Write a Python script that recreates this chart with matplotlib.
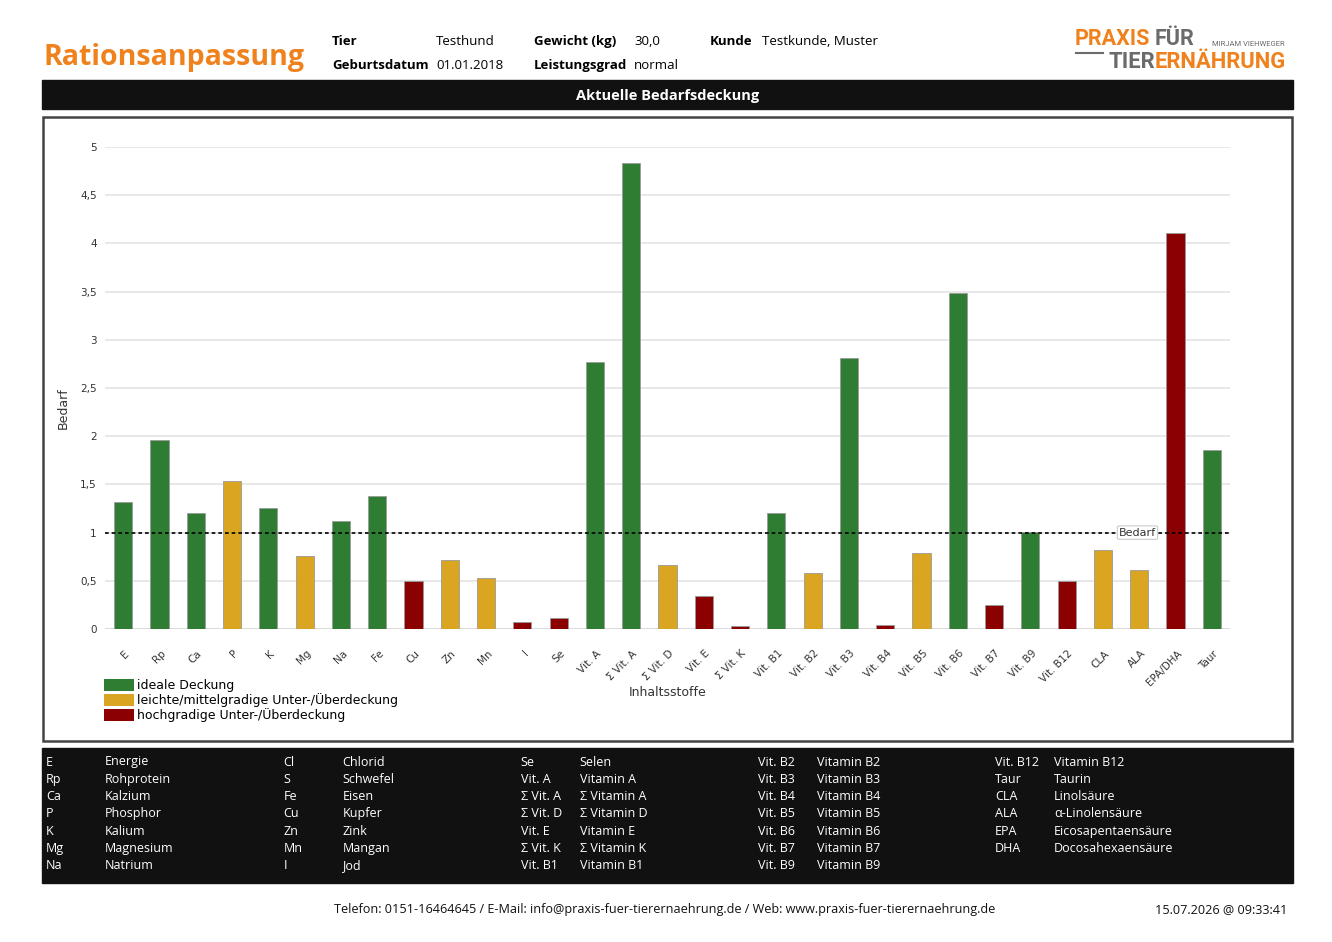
import matplotlib.pyplot as plt
import matplotlib.transforms as mtransforms
from matplotlib.patches import Rectangle, Patch
from matplotlib.lines import Line2D

# chart data
labels = ['E', 'Rp', 'Ca', 'P', 'K', 'Mg', 'Na', 'Fe', 'Cu', 'Zn', 'Mn', 'I', 'Se',
          'Vit. A', 'Σ Vit. A', 'Σ Vit. D', 'Vit. E', 'Σ Vit. K', 'Vit. B1', 'Vit. B2',
          'Vit. B3', 'Vit. B4', 'Vit. B5', 'Vit. B6', 'Vit. B7', 'Vit. B9', 'Vit. B12',
          'CLA', 'ALA', 'EPA/DHA', 'Taur']
values = [1.32, 1.96, 1.20, 1.535, 1.255, 0.757, 1.12, 1.38, 0.50, 0.716, 0.53, 0.073, 0.114,
          2.77, 4.83, 0.664, 0.342, 0.031, 1.20, 0.58, 2.81, 0.04, 0.79, 3.49, 0.25, 1.005,
          0.50, 0.82, 0.61, 4.11, 1.86]
# 0 = ideal, 1 = leicht/mittel, 2 = hochgradig
status = [0, 0, 0, 1, 0, 1, 0, 0, 2, 1, 1, 2, 2,
          0, 0, 1, 2, 2, 0, 1, 0, 2, 1, 0, 2, 0, 2,
          1, 1, 2, 0]
status_names = ['ideale Deckung', 'leichte/mittelgradige Unter-/Überdeckung',
                'hochgradige Unter-/Überdeckung']
status_colors = ['#2e7d32', '#daa520', '#8b0000']
yticks = [0, 0.5, 1, 1.5, 2, 2.5, 3, 3.5, 4, 4.5, 5]
ytick_labels = ['0', '0,5', '1', '1,5', '2', '2,5', '3', '3,5', '4', '4,5', '5']

# header info
info_left = [('Tier', 'Testhund'), ('Geburtsdatum', '01.01.2018')]
info_mid = [('Gewicht (kg)', '30,0'), ('Leistungsgrad', 'normal')]
info_right = [('Kunde', 'Testkunde, Muster')]

# abbreviation table, 5 columns
abbr_cols = [
    ['E', 'Rp', 'Ca', 'P', 'K', 'Mg', 'Na'],
    ['Cl', 'S', 'Fe', 'Cu', 'Zn', 'Mn', 'I'],
    ['Se', 'Vit. A', 'Σ Vit. A', 'Σ Vit. D', 'Vit. E', 'Σ Vit. K', 'Vit. B1'],
    ['Vit. B2', 'Vit. B3', 'Vit. B4', 'Vit. B5', 'Vit. B6', 'Vit. B7', 'Vit. B9'],
    ['Vit. B12', 'Taur', 'CLA', 'ALA', 'EPA', 'DHA'],
]
name_cols = [
    ['Energie', 'Rohprotein', 'Kalzium', 'Phosphor', 'Kalium', 'Magnesium', 'Natrium'],
    ['Chlorid', 'Schwefel', 'Eisen', 'Kupfer', 'Zink', 'Mangan', 'Jod'],
    ['Selen', 'Vitamin A', 'Σ Vitamin A', 'Σ Vitamin D', 'Vitamin E', 'Σ Vitamin K', 'Vitamin B1'],
    ['Vitamin B2', 'Vitamin B3', 'Vitamin B4', 'Vitamin B5', 'Vitamin B6', 'Vitamin B7', 'Vitamin B9'],
    ['Vitamin B12', 'Taurin', 'Linolsäure', 'α-Linolensäure', 'Eicosapentaensäure', 'Docosahexaensäure'],
]

footer = 'Telefon: 0151-16464645 / E-Mail: info@praxis-fuer-tierernaehrung.de / Web: www.praxis-fuer-tierernaehrung.de'
stamp = '15.07.2026 @ 09:33:41'

W, H = 1332, 942
ORANGE = '#f0821e'
GRAY = '#6b6b6b'
HFONT = ['Open Sans', 'DejaVu Sans']


def fx(x):
    return x / W


def fy(y):
    return 1 - y / H


fig = plt.figure(figsize=(W / 100, H / 100), dpi=100)

# ---- header ----
fig.text(fx(43), fy(57), 'Rationsanpassung', color=ORANGE, fontsize=20.5,
         fontweight='bold', family=HFONT, va='center', ha='left')

# baseline-aligned so labels with and without descenders sit on one line
for i, (k, v) in enumerate(info_left):
    fig.text(fx(332), fy(45 + 24 * i), k, fontsize=9.5, fontweight='bold', family=HFONT, va='baseline')
    fig.text(fx(436), fy(45 + 24 * i), v, fontsize=9.5, family=HFONT, va='baseline')
for i, (k, v) in enumerate(info_mid):
    fig.text(fx(534), fy(45 + 24 * i), k, fontsize=9.5, fontweight='bold', family=HFONT, va='baseline')
    fig.text(fx(634), fy(45 + 24 * i), v, fontsize=9.5, family=HFONT, va='baseline')
for i, (k, v) in enumerate(info_right):
    fig.text(fx(710), fy(45 + 24 * i), k, fontsize=9.5, fontweight='bold', family=HFONT, va='baseline')
    fig.text(fx(762), fy(45 + 24 * i), v, fontsize=9.5, family=HFONT, va='baseline')

# ---- chart ----
ax = fig.add_axes([fx(105), fy(629), fx(1230) - fx(105), fy(147) - fy(629)])

# logo
logo_font = dict(family=['Roboto', 'DejaVu Sans'], fontweight='bold', va='center')
fig.text(fx(1075), fy(39), 'PRAXIS', color=ORANGE, fontsize=15.5, ha='left', **logo_font)
fig.text(fx(1194), fy(39), 'FÜR', color=GRAY, fontsize=15.5, ha='right', **logo_font)
fig.text(fx(1285), fy(44), 'MIRJAM VIEHWEGER', color=GRAY, fontsize=5.5, ha='right',
         family=['Roboto', 'DejaVu Sans'], va='center')
t_ern = fig.text(fx(1286), fy(62), 'ERNÄHRUNG', color=ORANGE, fontsize=15.8, ha='right', **logo_font)
ax.annotate('TIER', xy=(0, 0.5), xycoords=t_ern, color=GRAY, fontsize=15.8, ha='right',
            annotation_clip=False, **logo_font)
fig.add_artist(Line2D([fx(1076), fx(1103)], [fy(53), fy(53)], color=GRAY, lw=1.5,
                      transform=fig.transFigure))

# title bar
fig.add_artist(Rectangle((fx(42), fy(109)), fx(1293) - fx(42), fy(80) - fy(109),
                         color='#111111', transform=fig.transFigure, zorder=0))
fig.text(fx(668), fy(96), 'Aktuelle Bedarfsdeckung', color='white', fontsize=10.5,
         fontweight='bold', family=HFONT, ha='center', va='center')

# chart frame
fig.add_artist(Rectangle((fx(43), fy(741)), fx(1292) - fx(43), fy(117) - fy(741),
                         fill=False, edgecolor='#444444', lw=1.8, transform=fig.transFigure))

x = list(range(len(labels)))
ax.bar(x, values, width=0.5, color=[status_colors[s] for s in status],
       edgecolor='#9a9a9a', linewidth=0.6, zorder=3)
ax.set_xlim(-0.5, len(labels) - 0.5)
ax.set_ylim(0, 5)
ax.set_yticks(yticks)
ax.set_yticklabels(ytick_labels)
ax.grid(axis='y', color='#e6e6e6', lw=1.3, zorder=0)
ax.axhline(0, color='#d8d8d8', lw=1.8, zorder=2)
for s in ax.spines.values():
    s.set_visible(False)
ax.tick_params(axis='y', length=0, pad=6, labelsize=7.5, labelcolor='#333333')
ax.tick_params(axis='x', length=0, pad=16.5, labelsize=7.5, labelcolor='#333333')
ax.set_xticks(x)
ax.set_xticklabels(labels, rotation=45, ha='right', va='center', rotation_mode='anchor')
shift = mtransforms.ScaledTranslation(0.045, 0, fig.dpi_scale_trans)
for lab in ax.get_xticklabels():
    lab.set_transform(lab.get_transform() + shift)

ax.set_ylabel('Bedarf', fontsize=9, color='#333333')
ax.yaxis.set_label_coords(-0.031, 0.458)
ax.set_xlabel('Inhaltsstoffe', fontsize=9, color='#333333')
ax.xaxis.set_label_coords(0.5, -0.118)

# Bedarf line
ax.axhline(1, color='black', ls=(0, (2.2, 1.8)), lw=1.2, zorder=4)
ax.text(27.95, 1, 'Bedarf', fontsize=8, color='#333333', ha='center', va='center', zorder=5,
        bbox=dict(boxstyle='round,pad=0.15', fc='white', ec='#bbbbbb', lw=0.6))

handles = [Patch(facecolor=c, edgecolor='none', label=n) for c, n in zip(status_colors, status_names)]
fig.legend(handles=handles, loc='upper left', bbox_to_anchor=(fx(104), fy(679)), frameon=False,
           fontsize=9, handlelength=2.4, handleheight=1.1, labelspacing=0.08, handletextpad=0.25,
           borderpad=0, borderaxespad=0)

# ---- abbreviation box ----
fig.add_artist(Rectangle((fx(42), fy(883)), fx(1293) - fx(42), fy(748) - fy(883),
                         color='#111111', transform=fig.transFigure, zorder=0))
for c, (abbrs, names) in enumerate(zip(abbr_cols, name_cols)):
    x0 = 46 + 237.3 * c
    for r, (a, n) in enumerate(zip(abbrs, names)):
        yy = 765.5 + 17.3 * r
        fig.text(fx(x0), fy(yy), a, color='white', fontsize=9, family=HFONT, va='baseline')
        fig.text(fx(x0 + 59), fy(yy), n, color='white', fontsize=9, family=HFONT, va='baseline')

# ---- footer ----
fig.text(fx(665), fy(910), footer, fontsize=9.1, family=HFONT, ha='center', va='center', color='#111111')
fig.text(fx(1287), fy(910), stamp, fontsize=9.1, family=HFONT, ha='right', va='center', color='#111111')

fig.savefig('out.png', dpi=100)
